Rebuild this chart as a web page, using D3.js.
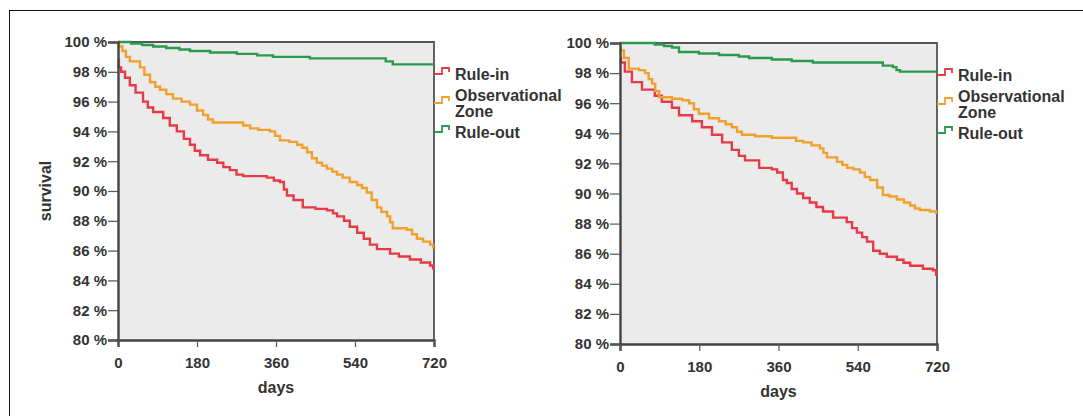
<!DOCTYPE html>
<meta charset="utf-8">
<style>
body { margin: 0; background: #fff; }
text { font-family: "Liberation Sans", Arial, sans-serif; font-weight: bold; fill: #333; }
</style>
<body>
<script src="https://cdn.jsdelivr.net/npm/d3@7"></script>
<script>
// Kaplan-Meier curves, [day, survival %]
var leftRuleIn = [[0,98.8],[2,98.3],[7,98.0],[16,97.6],[27,97.1],[40,96.6],[57,96.0],[68,95.6],[80,95.3],[103,94.9],[118,94.4],[134,94.0],[150,93.5],[164,93.1],[175,92.7],[187,92.4],[205,92.1],[226,91.9],[240,91.6],[255,91.4],[270,91.1],[285,91.0],[339,90.9],[355,90.7],[369,90.6],[378,90.1],[385,89.7],[400,89.4],[421,88.9],[450,88.8],[476,88.7],[490,88.5],[499,88.3],[515,88.0],[528,87.6],[545,87.2],[560,86.8],[574,86.4],[590,86.1],[620,85.8],[640,85.6],[665,85.4],[690,85.2],[711,85.0],[718,84.8],[720,84.8]];
var leftObs = [[0,100],[2,99.7],[10,99.4],[18,99.0],[27,98.7],[50,98.3],[60,97.8],[73,97.3],[85,97.0],[96,96.8],[110,96.5],[125,96.2],[145,96.0],[164,95.8],[180,95.4],[194,95.1],[205,94.8],[216,94.6],[271,94.6],[285,94.4],[301,94.2],[320,94.1],[346,94.0],[358,93.7],[369,93.4],[390,93.3],[408,93.1],[420,92.9],[431,92.6],[442,92.2],[453,91.9],[465,91.7],[476,91.5],[488,91.3],[499,91.1],[512,90.9],[528,90.6],[545,90.4],[556,90.2],[567,89.9],[578,89.4],[590,88.9],[600,88.6],[613,88.3],[620,87.9],[626,87.5],[658,87.4],[670,87.1],[681,86.8],[695,86.6],[711,86.4],[718,86.2],[720,86.2]];
var leftRuleOut = [[0,100],[30,99.9],[55,99.8],[80,99.7],[110,99.6],[140,99.5],[164,99.4],[210,99.3],[271,99.2],[317,99.1],[353,99.0],[437,98.9],[600,98.9],[610,98.7],[626,98.5],[720,98.5]];

var rightRuleIn = [[0,99.0],[2,98.7],[11,98.1],[27,97.4],[50,96.9],[79,96.5],[95,96.1],[118,95.7],[134,95.2],[164,94.8],[186,94.4],[209,93.9],[232,93.4],[254,92.9],[270,92.5],[284,92.2],[316,91.7],[345,91.6],[357,91.4],[370,90.9],[379,90.7],[390,90.3],[402,90.0],[416,89.7],[431,89.4],[446,89.1],[461,88.8],[484,88.4],[515,88.1],[527,87.7],[538,87.4],[550,87.1],[561,86.8],[575,86.2],[590,86.0],[606,85.8],[629,85.6],[644,85.4],[659,85.2],[688,85.0],[711,84.9],[718,84.6],[720,84.6]];
var rightObs = [[0,99.7],[2,99.5],[9,99.0],[20,98.3],[43,98.2],[57,98.0],[65,97.6],[73,97.3],[80,96.8],[89,96.4],[118,96.3],[141,96.2],[157,96.0],[168,95.6],[179,95.3],[202,95.0],[225,94.8],[240,94.6],[254,94.4],[266,94.1],[277,93.9],[307,93.8],[345,93.7],[386,93.7],[400,93.5],[416,93.4],[435,93.2],[454,93.0],[462,92.7],[470,92.4],[493,92.1],[505,91.9],[516,91.7],[530,91.6],[545,91.4],[556,91.1],[568,90.9],[584,90.4],[597,89.9],[612,89.8],[629,89.6],[645,89.4],[659,89.2],[670,89.0],[681,88.9],[704,88.8],[718,88.7],[720,88.7]];
var rightRuleOut = [[0,100],[50,100],[79,99.9],[100,99.8],[118,99.7],[134,99.4],[179,99.3],[225,99.2],[270,99.1],[293,99.0],[345,98.9],[390,98.8],[438,98.7],[590,98.7],[597,98.5],[620,98.4],[628,98.2],[636,98.1],[720,98.1]];

var dayTicks = [0, 180, 360, 540, 720];
var pctTicks = [80, 82, 84, 86, 88, 90, 92, 94, 96, 98, 100];
var groups = ["Rule-in", "Observational|Zone", "Rule-out"];
var colors = ["#e63a46", "#f2a02c", "#2b9a4e"];

var width = 1083, height = 416;

var svg = d3.select("body").append("svg")
    .attr("width", width)
    .attr("height", height);

// outer frame
svg.append("rect")
    .attr("x", 9.5).attr("y", 10.5)
    .attr("width", width).attr("height", height)
    .attr("fill", "none").attr("stroke", "#111").attr("stroke-width", 1);

function panel(left, top, w, h, series, yTitle) {
  var x = d3.scaleLinear().domain([0, 720]).range([0, w]);
  var y = d3.scaleLinear().domain([80, 100]).range([h, 0]);

  var g = svg.append("g").attr("transform", "translate(" + left + "," + top + ")");

  g.append("rect")
      .attr("width", w).attr("height", h)
      .attr("fill", "#ebebeb");

  var line = d3.line()
      .curve(d3.curveStepAfter)
      .x(function(d) { return x(d[0]); })
      .y(function(d) { return y(d[1]); });

  // frame top / right
  g.append("path")
      .attr("d", "M0,0H" + w + "V" + h)
      .attr("fill", "none").attr("stroke", "#555").attr("stroke-width", 1.8);

  series.forEach(function(s, i) {
    g.append("path")
        .datum(s)
        .attr("d", line)
        .attr("fill", "none")
        .attr("stroke", colors[i])
        .attr("stroke-width", 2.4);
  });

  var ya = g.append("g")
      .call(d3.axisLeft(y).tickValues(pctTicks).tickSize(10).tickPadding(1)
        .tickFormat(function(d) { return d + " %"; }));
  ya.select(".domain").attr("stroke", "#444").attr("stroke-width", 2.4);
  ya.selectAll(".tick line").attr("stroke", "#555").attr("stroke-width", 1.2);
  ya.selectAll("text").attr("font-size", 15).attr("fill", "#333")
      .attr("font-family", "Liberation Sans, Arial, sans-serif").attr("font-weight", "bold");

  var xa = g.append("g")
      .attr("transform", "translate(0," + h + ")")
      .call(d3.axisBottom(x).tickValues(dayTicks).tickSize(7).tickPadding(10));
  xa.select(".domain").attr("stroke", "#444").attr("stroke-width", 2.4);
  xa.selectAll(".tick line").attr("stroke", "#555").attr("stroke-width", 1.2);
  xa.selectAll("text").attr("font-size", 15).attr("fill", "#333")
      .attr("font-family", "Liberation Sans, Arial, sans-serif").attr("font-weight", "bold");

  g.append("text")
      .attr("x", x(360)).attr("y", h + 53)
      .attr("text-anchor", "middle")
      .attr("font-size", 16)
      .text("days");

  if (yTitle) {
    g.append("text")
        .attr("transform", "translate(-67," + (h / 2) + ") rotate(-90)")
        .attr("text-anchor", "middle")
        .attr("font-size", 16)
        .text(yTitle);
  }

  // legend
  var leg = g.append("g").attr("transform", "translate(" + w + ",0)");
  var legY = [32, 61, 90];
  groups.forEach(function(name, i) {
    var cy = legY[i];
    leg.append("path")
        .attr("d", "M0," + cy + "H8V" + (cy - 6) + "H15V" + (cy - 2))
        .attr("fill", "none").attr("stroke", colors[i]).attr("stroke-width", 1.8);
    var lines = name.split("|");
    var t = leg.append("text")
        .attr("x", 21)
        .attr("font-size", 16);
    lines.forEach(function(l, j) {
      t.append("tspan")
          .attr("x", 21)
          .attr("y", (lines.length > 1 ? cy - 2 : cy + 6) + j * 16)
          .text(l);
    });
  });
}

panel(118, 42, 316, 298, [leftRuleIn, leftObs, leftRuleOut], "survival");
panel(620, 43, 317, 301, [rightRuleIn, rightObs, rightRuleOut], null);
</script>
</body>
